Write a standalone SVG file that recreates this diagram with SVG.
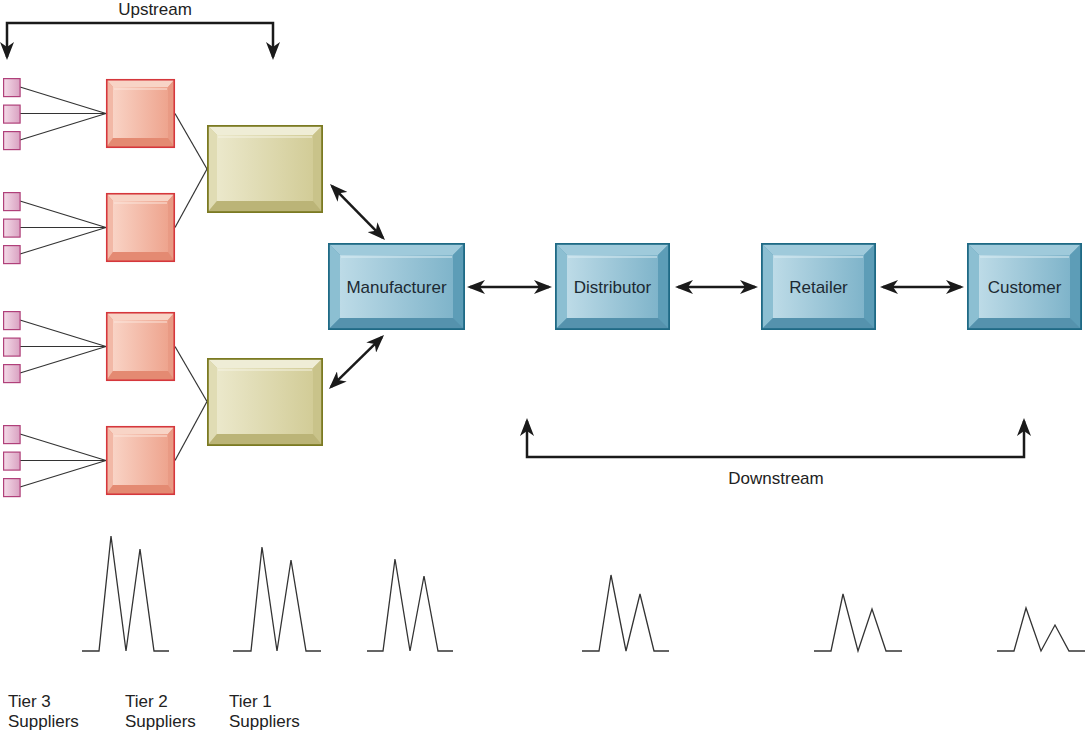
<svg xmlns="http://www.w3.org/2000/svg" xmlns:xlink="http://www.w3.org/1999/xlink" width="1085" height="732" viewBox="0 0 1085 732">
<style>
.lbl{font-family:"Liberation Sans",Arial,Helvetica,sans-serif;font-size:17px;fill:#222}
.box{font-family:"Liberation Sans",Arial,Helvetica,sans-serif;font-size:17px;fill:#1c2a33;text-anchor:middle}
.thin{stroke:#333;stroke-width:1.2;fill:none}
.arr{stroke:#1a1a1a;stroke-width:2.5;fill:none;marker-start:url(#ah);marker-end:url(#ah)}
.peak{stroke:#333;stroke-width:1.3;fill:none;stroke-linejoin:miter}
</style>
<defs>
<marker id="ah" viewBox="0 0 18 14" refX="15" refY="7" markerWidth="18" markerHeight="14" markerUnits="userSpaceOnUse" orient="auto-start-reverse"><path d="M0,0 L18,7 L0,14 L5,7 z" fill="#1a1a1a"/></marker>
<linearGradient id="gRed" x1="0" y1="0" x2="1" y2="0"><stop offset="0" stop-color="#f9d3c5"/><stop offset="1" stop-color="#eea48e"/></linearGradient>
<linearGradient id="gOl" x1="0" y1="0" x2="1" y2="0"><stop offset="0" stop-color="#ebe8cb"/><stop offset="1" stop-color="#d2cc97"/></linearGradient>
<linearGradient id="gBl" x1="0" y1="0" x2="1" y2="0"><stop offset="0" stop-color="#bddbe7"/><stop offset="1" stop-color="#7fb4ca"/></linearGradient>
<linearGradient id="gPk" x1="0" y1="0" x2="1" y2="0"><stop offset="0" stop-color="#f4dbe8"/><stop offset="1" stop-color="#d9a1c1"/></linearGradient>
<g id="t3"><rect x="0.6" y="0.6" width="16.5" height="18" fill="url(#gPk)" stroke="#b0407a" stroke-width="1.2"/></g>
<g id="t2">
<rect width="69" height="69" fill="#e99a84"/>
<polygon points="0,0 69,0 62,8 7,8" fill="#f8d4c6"/>
<polygon points="0,0 7,8 7,59 0,69" fill="#f2b8a6"/>
<polygon points="69,0 62,8 62,59 69,69" fill="#e99a84"/>
<polygon points="0,69 7,59 62,59 69,69" fill="#e48a72"/>
<rect x="7" y="8" width="55" height="51" fill="url(#gRed)"/>
<line x1="8" y1="10" x2="61" y2="10" stroke="#fbe6dc" stroke-width="1.2"/>
<rect x="0.75" y="0.75" width="67.5" height="67.5" fill="none" stroke="#d5373c" stroke-width="1.6"/>
</g>
<g id="t1">
<rect width="116" height="88" fill="#c9c38a"/>
<polygon points="0,0 116,0 106,10 10,10" fill="#efedd6"/>
<polygon points="0,0 10,10 10,76 0,88" fill="#e0dcb4"/>
<polygon points="116,0 106,10 106,76 116,88" fill="#c9c38a"/>
<polygon points="0,88 10,76 106,76 116,88" fill="#bbb477"/>
<rect x="10" y="10" width="96" height="66" fill="url(#gOl)"/>
<line x1="11" y1="12" x2="105" y2="12" stroke="#f6f4e4" stroke-width="1.2"/>
<rect x="0.9" y="0.9" width="114.2" height="86.2" fill="none" stroke="#7b7a22" stroke-width="1.8"/>
</g>
<g id="bl">
<rect width="115" height="87" fill="#5d9db7"/>
<polygon points="0,0 115,0 103,12 12,12" fill="#9fcadb"/>
<polygon points="0,0 12,12 12,75 0,87" fill="#8cbfd2"/>
<polygon points="115,0 103,12 103,75 115,87" fill="#5d9db7"/>
<polygon points="0,87 12,75 103,75 115,87" fill="#5592ad"/>
<rect x="12" y="12" width="91" height="63" fill="url(#gBl)"/>
<line x1="13" y1="14" x2="102" y2="14" stroke="#dcedf4" stroke-width="1.2"/>
<rect x="0.9" y="0.9" width="113.2" height="85.2" fill="none" stroke="#1f6a85" stroke-width="1.8"/>
</g>
<g id="blw">
<rect width="137" height="87" fill="#5d9db7"/>
<polygon points="0,0 137,0 125,12 12,12" fill="#9fcadb"/>
<polygon points="0,0 12,12 12,75 0,87" fill="#8cbfd2"/>
<polygon points="137,0 125,12 125,75 137,87" fill="#5d9db7"/>
<polygon points="0,87 12,75 125,75 137,87" fill="#5592ad"/>
<rect x="12" y="12" width="113" height="63" fill="url(#gBl)"/>
<line x1="13" y1="14" x2="124" y2="14" stroke="#dcedf4" stroke-width="1.2"/>
<rect x="0.9" y="0.9" width="135.2" height="85.2" fill="none" stroke="#1f6a85" stroke-width="1.8"/>
</g>
</defs>
<rect width="1085" height="732" fill="#ffffff"/>

<g id="connectors">
<g class="thin">
<line x1="20" y1="87" x2="106" y2="113.5"/><line x1="20" y1="113.5" x2="106" y2="113.5"/><line x1="20" y1="140" x2="106" y2="113.5"/>
<line x1="20" y1="201" x2="106" y2="227.5"/><line x1="20" y1="227.5" x2="106" y2="227.5"/><line x1="20" y1="254" x2="106" y2="227.5"/>
<line x1="20" y1="320" x2="106" y2="346.5"/><line x1="20" y1="346.5" x2="106" y2="346.5"/><line x1="20" y1="373" x2="106" y2="346.5"/>
<line x1="20" y1="434" x2="106" y2="460.5"/><line x1="20" y1="460.5" x2="106" y2="460.5"/><line x1="20" y1="487" x2="106" y2="460.5"/>
<line x1="175" y1="113.5" x2="207" y2="169"/><line x1="175" y1="227.5" x2="207" y2="169"/>
<line x1="175" y1="346.5" x2="207" y2="401.5"/><line x1="175" y1="460.5" x2="207" y2="401.5"/>
</g>
<line class="arr" x1="332.1" y1="186.1" x2="382.9" y2="237.9"/>
<line class="arr" x1="331.1" y1="386.9" x2="381.9" y2="337.1"/>
<line class="arr" x1="470" y1="287" x2="549" y2="287"/>
<line class="arr" x1="678" y1="287" x2="755" y2="287"/>
<line class="arr" x1="883" y1="287" x2="961" y2="287"/>
<path class="arr" d="M7,57 V23 H273 V57"/>
<path class="arr" d="M527,421 V457 H1024 V421"/>
</g>

<g id="tier3">
<use xlink:href="#t3" x="3" y="78"/><use xlink:href="#t3" x="3" y="104.5"/><use xlink:href="#t3" x="3" y="131"/>
<use xlink:href="#t3" x="3" y="192"/><use xlink:href="#t3" x="3" y="218.5"/><use xlink:href="#t3" x="3" y="245"/>
<use xlink:href="#t3" x="3" y="311"/><use xlink:href="#t3" x="3" y="337.5"/><use xlink:href="#t3" x="3" y="364"/>
<use xlink:href="#t3" x="3" y="425"/><use xlink:href="#t3" x="3" y="451.5"/><use xlink:href="#t3" x="3" y="478"/>
</g>
<g id="tier2-1"><use xlink:href="#t2" x="106" y="79"/></g>
<g id="tier2-2"><use xlink:href="#t2" x="106" y="193"/></g>
<g id="tier2-3"><use xlink:href="#t2" x="106" y="312"/></g>
<g id="tier2-4"><use xlink:href="#t2" x="106" y="426"/></g>
<g id="tier1-1"><use xlink:href="#t1" x="207" y="125"/></g>
<g id="tier1-2"><use xlink:href="#t1" x="207" y="358"/></g>
<g id="manufacturer"><use xlink:href="#blw" x="328" y="243"/><text class="box" x="396.5" y="293">Manufacturer</text></g>
<g id="distributor"><use xlink:href="#bl" x="555" y="243"/><text class="box" x="612.5" y="293">Distributor</text></g>
<g id="retailer"><use xlink:href="#bl" x="761" y="243"/><text class="box" x="818.5" y="293">Retailer</text></g>
<g id="customer"><use xlink:href="#bl" x="967" y="243"/><text class="box" x="1024.5" y="293">Customer</text></g>

<text class="lbl" x="155" y="15" text-anchor="middle">Upstream</text>
<text class="lbl" x="776" y="484" text-anchor="middle">Downstream</text>

<g id="peaks">
<polyline class="peak" points="82,651 99,651 111,536 126,651 140,549 154,651 169,651"/>
<polyline class="peak" points="233,651 251,651 262,547 277,651 291,560 306,651 321,651"/>
<polyline class="peak" points="367,651 383,651 395,559 410,651 424,576 438,651 453,651"/>
<polyline class="peak" points="582,651 599,651 611,575 626,651 640,594 654,651 669,651"/>
<polyline class="peak" points="814,651 831,651 843,594 858,651 872,609 886,651 902,651"/>
<polyline class="peak" points="997,651 1014,651 1026,608 1041,651 1055,625 1069,651 1085,651"/>
</g>

<g id="tier-labels" class="lbl">
<text x="8" y="707">Tier 3</text><text x="8" y="727">Suppliers</text>
<text x="125" y="707">Tier 2</text><text x="125" y="727">Suppliers</text>
<text x="229" y="707">Tier 1</text><text x="229" y="727">Suppliers</text>
</g>
</svg>
